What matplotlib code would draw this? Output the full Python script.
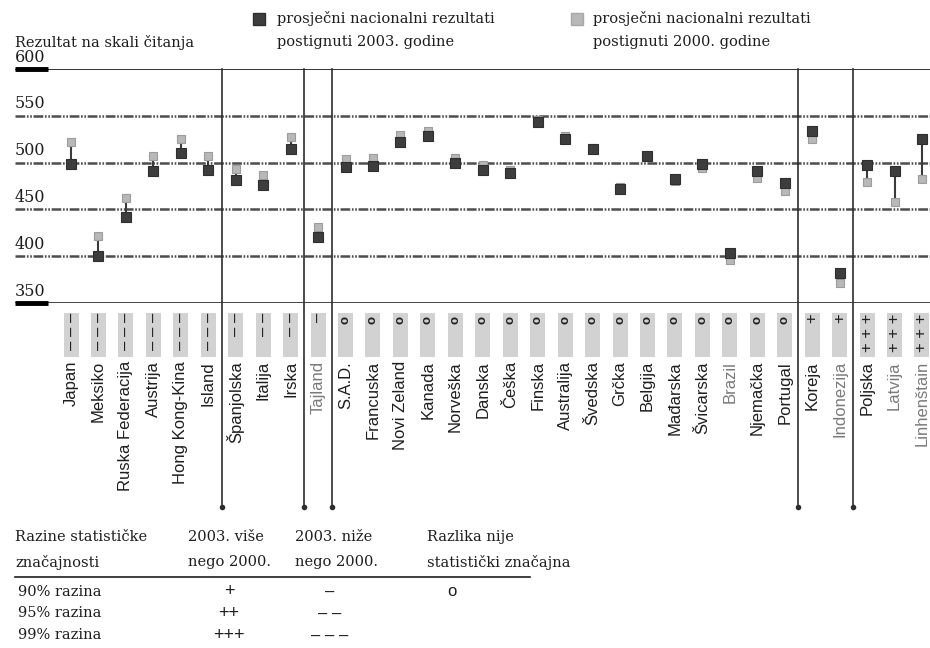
import matplotlib
matplotlib.use('Agg')
import matplotlib.pyplot as plt
from matplotlib.transforms import blended_transform_factory
from matplotlib.lines import Line2D
from matplotlib.patches import Rectangle

plt.rcParams['lines.scale_dashes'] = False

# PISA citanje: prosjecni rezultati 2003. i 2000.
countries = ['Japan', 'Meksiko', 'Ruska Federacija', 'Austrija', 'Hong Kong-Kina', 'Island',
             'Španjolska', 'Italija', 'Irska',
             'Tajland',
             'S.A.D.', 'Francuska', 'Novi Zeland', 'Kanada', 'Norveška', 'Danska', 'Češka',
             'Finska', 'Australija', 'Švedska', 'Grčka', 'Belgija', 'Mađarska', 'Švicarska',
             'Brazil', 'Njemačka', 'Portugal',
             'Koreja', 'Indonezija',
             'Poljska', 'Latvija', 'Linhenštain']
score_2003 = [498, 400, 442, 491, 510, 492,
              481, 476, 515,
              420,
              495, 496, 522, 528, 500, 492, 489,
              543, 525, 514, 472, 507, 482, 499,
              403, 491, 478,
              534, 382,
              497, 491, 525]
score_2000 = [522, 422, 462, 507, 525, 507,
              493, 487, 527,
              431,
              504, 505, 529, 534, 505, 497, 492,
              546, 528, 516, 474, 507, 480, 494,
              396, 484, 470,
              525, 371,
              479, 458, 483]
signif = ['– – –'] * 6 + ['– –'] * 3 + ['–'] + ['o'] * 17 + ['+'] * 2 + ['+ + +'] * 3
light_label = ['Tajland', 'Brazil', 'Indonezija', 'Latvija', 'Linhenštain']
separators = [5.5, 8.5, 9.5, 26.5, 28.5]
y_ticks = [600, 550, 500, 450, 400, 350]

W, H = 930, 648


def fx(px):
    return px / W


def fy(py):
    return 1 - py / H


serif = 'DejaVu Serif'
sans = 'Liberation Sans'
ink = '#1e1e1e'

fig = plt.figure(figsize=(W / 100, H / 100), dpi=100)
ax = fig.add_axes([fx(15), fy(303), fx(930) - fx(15), (303 - 69) / H])
step, x0 = 27.45, 71
ax.set_xlim((15 - x0) / step, (930 - x0) / step)
ax.set_ylim(350, 600)
ax.axis('off')

x = list(range(len(countries)))

# horizontalne linije
for v in [550, 500, 450, 400]:
    ax.axhline(v, color='#4d4d4d', lw=1.8, dashes=(7, 1.2, 1.2, 1.2, 1.2, 1.2), zorder=1)
ax.axhline(600, color='#333333', lw=1.4, zorder=1)
ax.axhline(350, color='#333333', lw=2.0, zorder=1)

ytr = blended_transform_factory(ax.transAxes, ax.transData)
for v in y_ticks:
    ax.annotate(str(v), xy=(0, v), xycoords=ytr, xytext=(0, 2.5), textcoords='offset points',
                va='bottom', ha='left', fontsize=11.5, family=serif, color=ink)
for v in [600, 350]:
    ax.plot([0, 33 / 915], [v, v], transform=ytr, color='black', lw=3.5,
            solid_capstyle='butt', clip_on=False, zorder=3)

# tocke
ax.vlines(x, score_2000, score_2003, color='#3a3a3a', lw=1.5, zorder=2)
ax.plot(x, score_2000, 's', ms=6.2, mfc='#b8b8b8', mec='#9c9c9c', mew=0.8, zorder=3, clip_on=False)
ax.plot(x, score_2003, 's', ms=7.4, mfc='#3d3d3d', mec='#2e2e2e', mew=0.8, zorder=4, clip_on=False)

# ispod grafa
tr = blended_transform_factory(ax.transData, fig.transFigure)
for s in separators:
    ax.plot([s, s], [fy(69), fy(507)], transform=tr, color='#2e2e2e', lw=1.2, clip_on=False)
    ax.plot([s], [fy(507)], 'o', ms=3, color='#2e2e2e', transform=tr, clip_on=False)

bw = 15 / step
for i, name in enumerate(countries):
    ax.add_patch(Rectangle((i - bw / 2, fy(357)), bw, (357 - 313) / H, transform=tr,
                           facecolor='#d2d2d2', edgecolor='none', clip_on=False))
    sym = signif[i]
    if sym == 'o':
        ax.text(i, fy(316), sym, transform=tr, rotation=90, ha='center', va='top',
                fontsize=9.5, family=sans, fontweight='bold', color=ink)
    else:
        ax.text(i, fy(313), sym, transform=tr, rotation=90, ha='center', va='top',
                fontsize=12, family=sans, color=ink)
    col = '#7a7a7a' if name in light_label else ink
    ax.text(i, fy(361), name, transform=tr, rotation=90, ha='center', va='top',
            fontsize=12, family=sans, color=col)

# legenda
fs = 10.5
fig.text(fx(15), fy(42), 'Rezultat na skali čitanja', va='center', ha='left',
         fontsize=fs, family=serif, color=ink)
fig.add_artist(Line2D([fx(258.5)], [fy(18.5)], marker='s', ms=8, mfc='#3d3d3d', mec='#2e2e2e',
                      transform=fig.transFigure))
fig.add_artist(Line2D([fx(576.5)], [fy(18.5)], marker='s', ms=8, mfc='#b8b8b8', mec='#a8a8a8',
                      transform=fig.transFigure))
fig.text(fx(277), fy(18), 'prosječni nacionalni rezultati', va='center', fontsize=fs,
         family=serif, color=ink)
fig.text(fx(277), fy(42), 'postignuti 2003. godine', va='center', fontsize=fs,
         family=serif, color=ink)
fig.text(fx(593), fy(18), 'prosječni nacionalni rezultati', va='center', fontsize=fs,
         family=serif, color=ink)
fig.text(fx(593), fy(42), 'postignuti 2000. godine', va='center', fontsize=fs,
         family=serif, color=ink)

# tablica razina znacajnosti
head = [(15, 'Razine statističke', 'značajnosti'),
        (188, '2003. više', 'nego 2000.'),
        (295, '2003. niže', 'nego 2000.'),
        (427, 'Razlika nije', 'statistički značajna')]
for px, l1, l2 in head:
    fig.text(fx(px), fy(537), l1, va='center', fontsize=fs, family=serif, color=ink)
    fig.text(fx(px), fy(562), l2, va='center', fontsize=fs, family=serif, color=ink)
fig.add_artist(Line2D([fx(15), fx(530)], [fy(577), fy(577)], color=ink, lw=1.2,
                      transform=fig.transFigure))
rows = ['90% razina', '95% razina', '99% razina']
plus = ['+', '++', '+++']
minus = ['–', '– –', '– – –']
for k, py in enumerate([592, 613, 635]):
    fig.text(fx(18), fy(py), rows[k], va='center', fontsize=fs, family=serif, color=ink)
    fig.text(fx(229), fy(py), plus[k], va='center', ha='center', fontsize=13, family=sans,
             color=ink)
    fig.text(fx(330), fy(py), minus[k], va='center', ha='center', fontsize=12, family=sans,
             color=ink)
fig.text(fx(452), fy(592), 'o', va='center', ha='center', fontsize=12, family=sans,
         color=ink)

fig.savefig('out.png', dpi=100)
